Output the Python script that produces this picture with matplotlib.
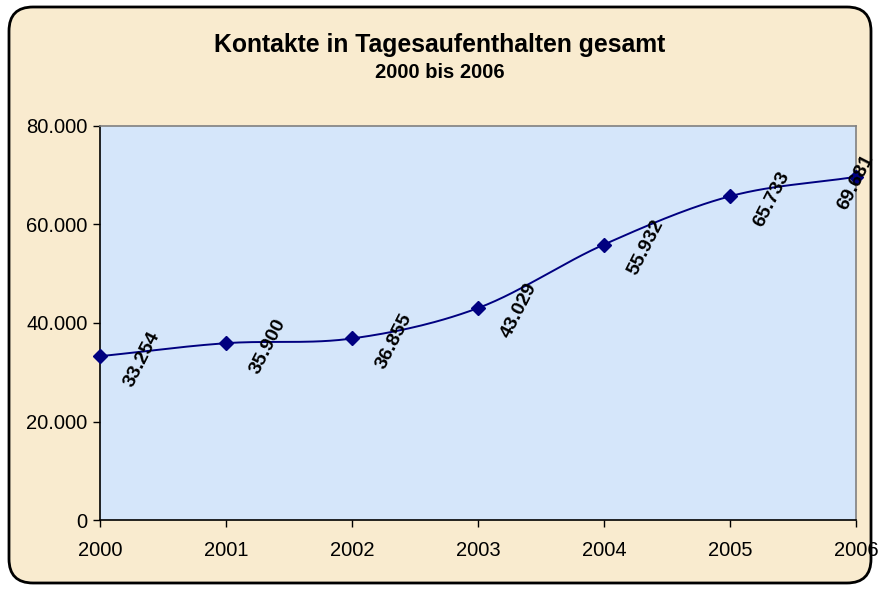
import numpy as np
import matplotlib
matplotlib.use("Agg")
import matplotlib.pyplot as plt
from matplotlib.patches import FancyBboxPatch
from matplotlib.ticker import FuncFormatter, MultipleLocator

years = [2000, 2001, 2002, 2003, 2004, 2005, 2006]
kontakte = [33254, 35900, 36855, 43029, 55932, 65733, 69681]
title = "Kontakte in Tagesaufenthalten gesamt"
subtitle = "2000 bis 2006"

plt.rcParams['font.family'] = ['Liberation Sans', 'DejaVu Sans']

fig = plt.figure(figsize=(8.79, 5.89), dpi=100)
fig.patch.set_facecolor('white')

# background axes holding the rounded chart frame
bg = fig.add_axes([0, 0, 1, 1], zorder=0)
bg.set_axis_off()
bg.set_xlim(0, 879); bg.set_ylim(0, 589)
frame = FancyBboxPatch((9, 6), 862, 576,
                       boxstyle="round,pad=0,rounding_size=24",
                       facecolor='#F9EBCF', edgecolor='black', linewidth=2.0)
bg.add_patch(frame)

ax = fig.add_axes([100/879, 1-520/589, (856-100)/879, (520-126)/589], zorder=1)
ax.set_facecolor('#D5E6FA')

x = np.array(years, dtype=float)
y = np.array(kontakte, dtype=float)

# Excel-style smoothed line (Catmull-Rom through the data points)
px = np.concatenate([[2*x[0]-x[1]], x, [2*x[-1]-x[-2]]])
py = np.concatenate([[2*y[0]-y[1]], y, [2*y[-1]-y[-2]]])
cx, cy = [], []
t = np.linspace(0, 1, 30)
for i in range(1, len(px)-2):
    p0, p1, p2, p3 = (px[i-1], py[i-1]), (px[i], py[i]), (px[i+1], py[i+1]), (px[i+2], py[i+2])
    for k in range(2):
        a0, a1, a2, a3 = p0[k], p1[k], p2[k], p3[k]
        c = 0.5*((2*a1) + (-a0+a2)*t + (2*a0-5*a1+4*a2-a3)*t**2 + (-a0+3*a1-3*a2+a3)*t**3)
        (cx if k == 0 else cy).append(c)
cx = np.concatenate(cx); cy = np.concatenate(cy)
ax.plot(cx, cy, color='#000080', linewidth=1.4, zorder=3, clip_on=False)
ax.plot(x, y, linestyle='none', marker='D', markersize=7, color='#000080', zorder=4, clip_on=False)

fmt = lambda v: f"{v:,.0f}".replace(',', '.')
for i, (xi, yi) in enumerate(zip(years, kontakte)):
    if i == len(years) - 1:
        off = (0, -4)
    else:
        off = (30, -2)
    ax.annotate(fmt(yi), (xi, yi), xytext=off, textcoords='offset points',
                rotation=63, ha='center', va='center', fontsize=14,
                fontweight='bold', color='black', zorder=5, annotation_clip=False)

ax.set_xlim(2000, 2006)
ax.set_ylim(0, 80000)
ax.set_xticks(years)
ax.set_xticklabels([str(v) for v in years])
ax.yaxis.set_major_locator(MultipleLocator(20000))
ax.yaxis.set_major_formatter(FuncFormatter(lambda v, p: fmt(v)))
ax.tick_params(axis='both', direction='out', length=5, width=1, labelsize=14.5, colors='black')
ax.tick_params(axis='x', pad=10)
ax.tick_params(axis='y', pad=4)
for s in ['left', 'bottom']:
    ax.spines[s].set_color('black'); ax.spines[s].set_linewidth(1.2)
for s in ['top', 'right']:
    ax.spines[s].set_color('#808080'); ax.spines[s].set_linewidth(1.2)

fig.text(0.5006, 1-45/589, title, ha='center', va='center', fontsize=17.8, fontweight='bold')
fig.text(0.5006, 1-72/589, subtitle, ha='center', va='center', fontsize=14.5, fontweight='bold')

fig.savefig('out.png', dpi=100, facecolor=fig.get_facecolor())
